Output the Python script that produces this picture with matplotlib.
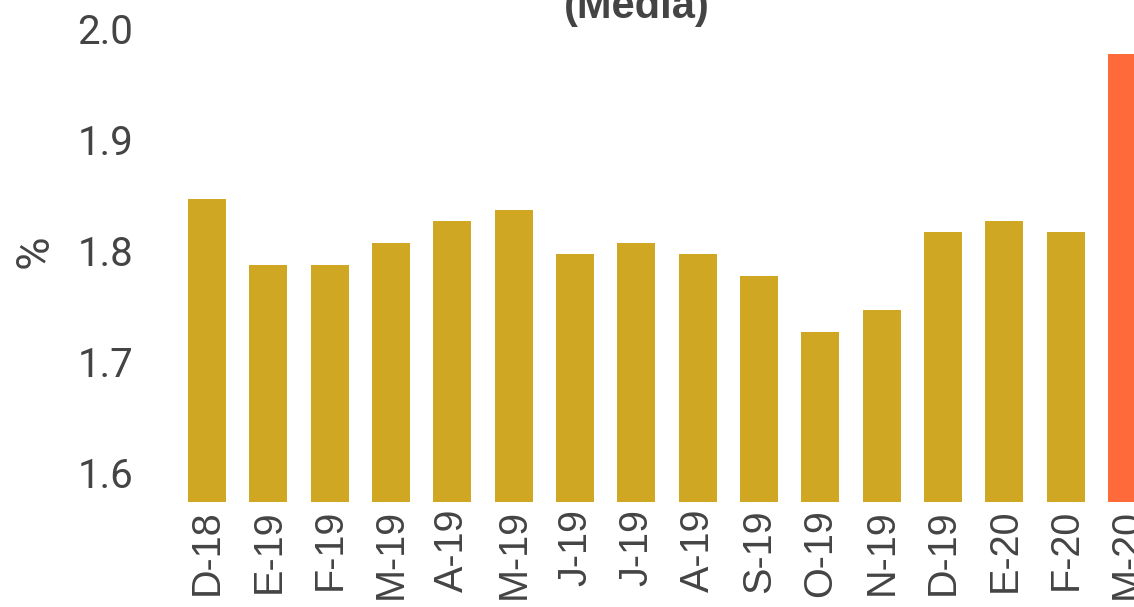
import matplotlib
matplotlib.use('Agg')
import matplotlib.pyplot as plt
import numpy as np

# monthly values (media), last month highlighted
months = ['D-18', 'E-19', 'F-19', 'M-19', 'A-19', 'M-19', 'J-19', 'J-19',
          'A-19', 'S-19', 'O-19', 'N-19', 'D-19', 'E-20', 'F-20', 'M-20']
values = [1.85, 1.79, 1.79, 1.81, 1.83, 1.84, 1.80, 1.81,
          1.80, 1.78, 1.73, 1.75, 1.82, 1.83, 1.82, 1.98]
yticks = [1.6, 1.7, 1.8, 1.9, 2.0]

plt.rcParams['font.family'] = ['Roboto', 'DejaVu Sans']
txt_color = '#444444'

fig = plt.figure(figsize=(11.34, 6.07), dpi=100)
# axes runs past the right edge, like the cropped original
ax = fig.add_axes([176.3 / 1134, 105 / 607, 981.3 / 1134, (502 - 32) / 607])

x = np.arange(len(months))
cols = ['#D0A722'] * (len(months) - 1) + ['#FF6A3A']
ax.bar(x, values, width=0.62, color=cols)

ax.set_xlim(-0.5, len(months) - 0.5)
ax.set_ylim(1.5767, 2.0)
ax.set_yticks(yticks)
ax.set_yticklabels(['%.1f' % t for t in yticks])
ax.set_xticks(x)
ax.set_xticklabels(months, rotation=90, family=['Liberation Sans', 'DejaVu Sans'])

for s in ax.spines.values():
    s.set_visible(False)
ax.tick_params(axis='y', length=0, pad=31, labelsize=29, labelcolor=txt_color)
ax.tick_params(axis='x', length=0, pad=5, labelsize=28.5, labelcolor=txt_color)
for lab in ax.get_yticklabels():
    lab.set_va('center')

fig.text(35 / 1134, 1 - 251 / 607, '%', rotation=90, ha='center', va='center',
         fontsize=33, color=txt_color)

fig.text(637 / 1134, 1 - 27 / 607, '(Media)', ha='center', va='bottom',
         fontsize=30, fontweight='bold', color=txt_color,
         family=['Liberation Sans', 'DejaVu Sans'])

fig.savefig('out.png', dpi=100)
